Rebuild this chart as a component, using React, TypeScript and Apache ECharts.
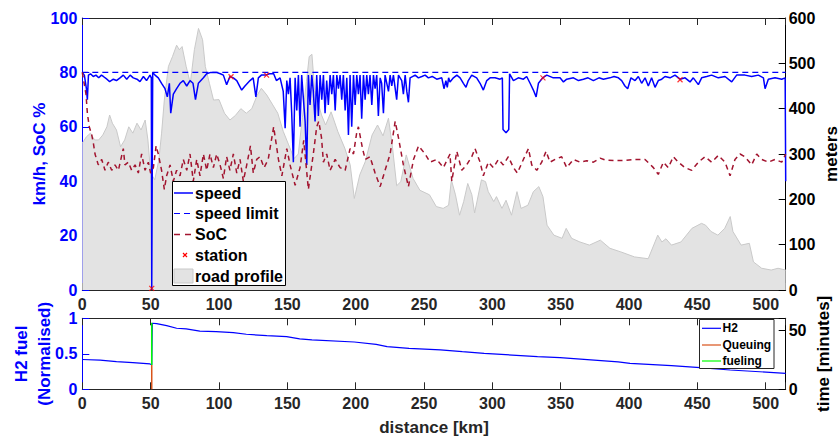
import React, { useEffect, useRef } from "react";
import * as echarts from "echarts";

const FONT = '"Liberation Sans", Arial, Helvetica, sans-serif';
const BLUE = "#0000ff";
const DARK = "#262626";

// distance [km] vs road profile [meters]
const roadProfile: [number, number][] = [
  [0, 324], [3, 338], [6, 346], [9, 331], [12, 331], [15, 342], [18, 360], [20, 386], [22, 368], [25, 353],
  [28, 316], [31, 331], [34, 360], [37, 346], [40, 368], [43, 353], [46, 375], [48, 331], [50, 258], [53, 243],
  [56, 287], [58, 346], [60, 419], [63, 493], [66, 515], [69, 540], [71, 530], [73, 537], [76, 493], [79, 456],
  [82, 530], [85, 577], [88, 552], [90, 493], [93, 456], [96, 419], [100, 420], [104, 390], [108, 375], [112, 385],
  [116, 400], [120, 390], [124, 400], [128, 430], [131, 445], [135, 430], [139, 410], [143, 390], [147, 350],
  [151, 320], [155, 290], [158, 300], [161, 380], [164, 460], [166, 515], [168, 520], [170, 440], [175, 386],
  [178, 364], [182, 393], [187, 349], [192, 313], [196, 276], [199, 202], [203, 254], [207, 283], [212, 342],
  [216, 364], [220, 340], [224, 379], [227, 313], [230, 230], [233, 239], [237, 298], [242, 246], [247, 220],
  [254, 210], [259, 184], [264, 180], [268, 187], [270, 243], [273, 210], [276, 165], [279, 195], [282, 235],
  [285, 210], [287, 170], [292, 243], [295, 239], [297, 217], [301, 195], [303, 206], [307, 180], [310, 198],
  [314, 165], [318, 217], [321, 180], [326, 187], [330, 217], [334, 228], [337, 206], [340, 143], [345, 121],
  [351, 114], [354, 136], [358, 114], [364, 106], [371, 99], [379, 110], [386, 92], [394, 84], [404, 73],
  [414, 69], [419, 106], [421, 121], [424, 106], [427, 113], [431, 99], [438, 106], [446, 136], [453, 147],
  [456, 143], [460, 129], [465, 121], [470, 136], [474, 162], [476, 129], [482, 99], [488, 103], [491, 62],
  [497, 48], [504, 44], [509, 48], [514.6, 44],
];

// distance [km] vs speed [km/h]
const speedPoints: [number, number][] = [
  [0, 80], [1.5, 79], [3, 74], [3.7, 70], [4.5, 79], [6, 79.5], [8, 78.5], [10, 79], [12, 78], [14, 79],
  [15.4, 78.5], [18, 77.5], [20, 76.6], [22.7, 77.5], [25, 77], [27.6, 78], [30, 79], [32.5, 77.5], [35, 79],
  [37.3, 78], [40, 77.5], [42.2, 76.6], [44.7, 78.5], [47, 77], [49.5, 79], [50.5, 78], [50.8, 0], [51.2, 0],
  [51.5, 80], [53.2, 79], [55.6, 78], [58, 76], [60.5, 74], [62.2, 71], [63.7, 76], [64.7, 65], [66.6, 72],
  [69, 74], [71.5, 76], [73.9, 77], [76.4, 75], [78.8, 77], [81, 76], [82.8, 70], [84.9, 76], [88.6, 78],
  [91, 79.5], [94, 80], [98, 80], [101, 79.5], [103.2, 79], [105.6, 75.5], [108, 78.5], [110.5, 78], [113, 77],
  [116.6, 73.5], [119, 75], [122.7, 77], [125, 78], [127, 71], [128.8, 78], [131, 79], [134, 79], [137, 79.5],
  [140, 79.5], [142, 77], [144.7, 78], [147, 73], [148.4, 59.5], [149.6, 77], [150.8, 72], [152, 78],
  [153.2, 65], [154.4, 47], [155.7, 78], [156.9, 66], [158.1, 79], [159.3, 60], [160.5, 79], [161.8, 70],
  [163, 62], [164.2, 46], [165.4, 79], [166.6, 68], [167.9, 79], [169, 73], [170.3, 62], [171.5, 79],
  [172.7, 64], [174, 79], [175.2, 70], [176.4, 79], [177.6, 65], [178.8, 77], [180, 68], [181.3, 79],
  [182.5, 72], [183.7, 79], [185, 66], [186.2, 79], [187.4, 74], [188.6, 79], [189.8, 70], [191, 79],
  [192.3, 66], [193.5, 78], [194.7, 57], [195.9, 79], [197.1, 60], [198.4, 79], [199.6, 68], [200.8, 79],
  [202, 72], [203.2, 79], [204.4, 63], [205.7, 79], [206.9, 70], [208.1, 79], [209.3, 72], [210.5, 79],
  [211.8, 68], [213, 79], [214.2, 74], [215.4, 79], [216.6, 64], [217.9, 78], [219, 76], [220.3, 65],
  [221.5, 79], [224, 73], [225.2, 79], [226.4, 75], [227.6, 79], [230, 70], [231.3, 79], [233.7, 77],
  [234.9, 72], [236.2, 79], [237.4, 73], [238.6, 69], [239.8, 78], [243.5, 79], [245.9, 78], [248.4, 78.5],
  [250.8, 79], [253.2, 78], [256, 78.5], [259.3, 77.5], [263, 78], [264.6, 74], [266, 77], [267, 74.5],
  [268, 78], [269, 76.5], [271.5, 78], [274, 79], [276.4, 78], [278.8, 76], [280.7, 74.5], [282.4, 77],
  [284.9, 79], [288.5, 78], [291, 76], [293.4, 73.5], [295.9, 77], [298.3, 78], [302, 78], [305.6, 77.5],
  [307.3, 78], [307.8, 59], [310, 57.8], [312, 59], [312.6, 79.5], [315.4, 77], [319, 78], [322.7, 77.5],
  [325.1, 78.5], [327.6, 76], [330, 73.5], [332, 71], [333.7, 76], [336.8, 78], [339.8, 79], [344.6, 78],
  [349.5, 78], [352, 76.5], [354.4, 77.5], [359.3, 78], [363, 77], [366.6, 77.5], [370, 78], [373.9, 77],
  [378, 78], [381.2, 77.5], [386, 78], [389, 78.5], [392.2, 78], [394.6, 77], [397, 75], [399, 74],
  [401.4, 78], [404.4, 77], [406.8, 78.5], [409.2, 76], [411.7, 78], [414.1, 75], [416.5, 78], [419, 74.5],
  [421.4, 77], [423.9, 77.5], [426.3, 78.5], [430, 78], [433.6, 79], [437.3, 77.5], [441, 78], [444.6, 76.5],
  [447, 78], [450.7, 75.5], [453.1, 78], [456.8, 78.5], [460.4, 79], [465.3, 78], [470.2, 78.5], [475.1, 76.5],
  [478.7, 79], [484.8, 79], [489.7, 78.5], [494.6, 79], [498.3, 78], [499.5, 74], [501.9, 77.5], [506.8, 78],
  [511.7, 77.5], [514.2, 78], [514.6, 40],
];

// speed limit [km/h]
const speedLimitPoints: [number, number][] = [[0, 80], [514.6, 80]];

// distance [km] vs state of charge [%]
const socPoints: [number, number][] = [
  [0, 80], [2.7, 72], [3.7, 65], [5.1, 60], [6.9, 57], [8.1, 54], [9.3, 50], [11.7, 46], [14.2, 48], [16.6, 44],
  [19, 47], [21.5, 44], [23.9, 46], [26.4, 44], [30, 52], [31.2, 46], [33.7, 47], [36.1, 44], [38.6, 46], [41, 43],
  [43.4, 50], [45.9, 44], [48.3, 47], [50, 43], [52, 45], [54, 53], [55.6, 50], [58, 44], [60, 37], [61.7, 42],
  [64.2, 46], [66.6, 40], [69, 44], [71.5, 42], [73.9, 48], [76.4, 44], [78.8, 50], [81.2, 40], [83.7, 48],
  [86.1, 42], [88.6, 50], [91, 44], [93.4, 50], [95.9, 45], [98.3, 50], [100.8, 46], [103.2, 41], [105.6, 49],
  [108, 44], [110.5, 50], [113, 43], [115.4, 48], [117.8, 40], [120.3, 46], [123, 53], [125.1, 43], [127.6, 48],
  [130, 49], [133, 45], [136, 48], [140, 60], [143.5, 48], [146, 42], [149.6, 52], [152, 46], [155.7, 38.5],
  [159.3, 45], [162, 55], [165.4, 37], [169, 50], [171.5, 60], [173, 62], [175, 56], [176.4, 47], [178.8, 50],
  [181.3, 44], [185, 48], [188.6, 45], [192.3, 44], [195.9, 52], [198.4, 50], [200.8, 58], [202, 60], [205, 52],
  [207, 48], [210.5, 49], [214.2, 43], [217.9, 38], [221.5, 44], [225.2, 50], [228.9, 62], [231.3, 56],
  [234.9, 46], [238.6, 38], [242.3, 48], [246, 53], [250.8, 50], [254.4, 47], [259.3, 48], [264.2, 45],
  [269, 50], [270.3, 40], [274, 51], [277.6, 44], [281.2, 46], [284.9, 49], [287.3, 52], [291, 47], [293.4, 42],
  [297.1, 47], [300.7, 45], [304.4, 48], [308, 46], [311.7, 49], [315.4, 45], [318.3, 43], [322.7, 48],
  [326.4, 52], [328.8, 46], [332.5, 44], [336.1, 47], [339.3, 51], [342.2, 47], [345.9, 48], [350.7, 49],
  [354.4, 45], [359.3, 48], [364.2, 47], [369, 47.5], [373.9, 47], [378.8, 48.5], [382.4, 47.8], [389.7, 47.6],
  [397, 47.6], [404.4, 48], [411.7, 48], [417.8, 45], [421.4, 42.5], [425.1, 47], [428.7, 45], [432.4, 49],
  [436, 47], [440.9, 45], [445.8, 44], [450.7, 47], [455.6, 49], [460.4, 47], [465.3, 49.5], [470.2, 47],
  [473.9, 42], [477.5, 48], [481.2, 50], [484.8, 49], [489.7, 46], [493.4, 50], [497, 48], [501.9, 47],
  [506.8, 48], [511.7, 47], [514.6, 50],
];

// fuelling stations along the route
const stationPoints: [number, number][] = [[50.8, 0.6], [108.8, 78.4], [134.8, 79], [337, 78], [437.3, 77.3]];

// H2 fuel level (normalised)
const h2Points: [number, number][] = [
  [0, 0.42], [13, 0.41], [25, 0.39], [37, 0.375], [49.5, 0.357], [50.8, 0.345], [51.2, 0.93], [54.4, 0.925],
  [61.7, 0.897], [69, 0.86], [76, 0.85], [86, 0.82], [98, 0.812], [110.5, 0.798], [120, 0.775], [135, 0.756],
  [149.5, 0.742], [159, 0.71], [168, 0.695], [199, 0.666], [215, 0.633], [223, 0.6], [239, 0.577], [262, 0.554],
  [278, 0.53], [294, 0.507], [333, 0.46], [349.5, 0.445], [392, 0.385], [400.7, 0.366], [431, 0.333],
  [452, 0.305], [474, 0.272], [514.6, 0.225],
];

// time [minutes] spent at the station
const queuingPoints: [number, number][] = [[50.8, 0], [50.8, 20.5]];
const fuelingPoints: [number, number][] = [[50.8, 20.5], [50.8, 56.3]];

const X_MAX = 514.6;
const X_INTERVAL = 50;

function xAxis(gridIndex: number, position: "top" | "bottom", showLabel: boolean, name?: string) {
  return {
    type: "value",
    gridIndex,
    position,
    min: 0,
    max: X_MAX,
    interval: X_INTERVAL,
    name,
    nameLocation: "middle",
    nameGap: 30,
    nameMoveOverlap: false,
    nameTextStyle: { color: DARK, fontSize: 17, fontWeight: "bold", fontFamily: FONT },
    axisLine: { show: true, onZero: false, lineStyle: { color: DARK, width: 1 } },
    axisTick: { show: true, inside: true, length: 7, lineStyle: { color: DARK, width: 1 } },
    axisLabel: {
      show: showLabel,
      color: DARK,
      fontSize: 16,
      fontWeight: "bold",
      fontFamily: FONT,
      margin: 6,
      formatter: (v: number) => (v % X_INTERVAL === 0 ? String(v) : ""),
    },
    splitLine: { show: false },
  };
}

function yAxis(
  gridIndex: number,
  position: "left" | "right",
  min: number,
  max: number,
  interval: number,
  color: string,
  name: string,
  nameGap: number,
  margin: number,
) {
  return {
    type: "value",
    gridIndex,
    position,
    min,
    max,
    interval,
    name,
    nameLocation: "middle",
    nameGap,
    nameMoveOverlap: false,
    nameTextStyle: { color, fontSize: 17, fontWeight: "bold", fontFamily: FONT, lineHeight: 23 },
    axisLine: { show: true, onZero: false, lineStyle: { color, width: 1 } },
    axisTick: { show: true, inside: true, length: 7, lineStyle: { color, width: 1 } },
    axisLabel: {
      color,
      fontSize: 16,
      fontWeight: "bold",
      fontFamily: FONT,
      margin,
      formatter: (v: number) => {
        const r = Math.round((v - min) / interval);
        return Math.abs(min + r * interval - v) < 1e-9 ? String(v) : "";
      },
    },
    splitLine: { show: false },
  };
}

const legendFont = `bold 16px ${FONT}`;
const smallFont = `bold 12px ${FONT}`;

function buildGraphic() {
  const z = 100;
  const rows = [193, 213.5, 234.5, 255, 276];
  const tx = 195;
  const g: any[] = [
    { type: "rect", z, shape: { x: 172.5, y: 181.5, width: 113, height: 104 }, style: { fill: "#ffffff", stroke: "#000000", lineWidth: 1 } },
    { type: "line", z, shape: { x1: 174, y1: rows[0], x2: 193, y2: rows[0] }, style: { stroke: BLUE, lineWidth: 1.5 } },
    { type: "line", z, shape: { x1: 174, y1: rows[1], x2: 193, y2: rows[1] }, style: { stroke: BLUE, lineWidth: 1.2, lineDash: [6, 4] } },
    { type: "line", z, shape: { x1: 174, y1: rows[2], x2: 193, y2: rows[2] }, style: { stroke: "#a2142f", lineWidth: 1.5, lineDash: [6, 5] } },
    { type: "line", z, shape: { x1: 183, y1: rows[3] - 2, x2: 187, y2: rows[3] + 2 }, style: { stroke: "#ff0000", lineWidth: 1.2 } },
    { type: "line", z, shape: { x1: 187, y1: rows[3] - 2, x2: 183, y2: rows[3] + 2 }, style: { stroke: "#ff0000", lineWidth: 1.2 } },
    { type: "rect", z, shape: { x: 174, y: 269, width: 19, height: 14 }, style: { fill: "#e3e3e3", stroke: "#c9c9c9", lineWidth: 1 } },
  ];
  ["speed", "speed limit", "SoC", "station", "road profile"].forEach((t, i) => {
    g.push({ type: "text", z, x: tx, y: rows[i], style: { text: t, font: legendFont, fill: "#000000", verticalAlign: "middle", align: "left" } });
  });
  const rows2 = [328.3, 345, 361];
  g.push({ type: "rect", z, shape: { x: 699.5, y: 319.5, width: 74.5, height: 49 }, style: { fill: "#ffffff", stroke: DARK, lineWidth: 1 } });
  const cols2 = [BLUE, "#d95319", "#00ff00"];
  ["H2", "Queuing", "fueling"].forEach((t, i) => {
    g.push({ type: "line", z, shape: { x1: 702, y1: rows2[i], x2: 721, y2: rows2[i] }, style: { stroke: cols2[i], lineWidth: 1.2 } });
    g.push({ type: "text", z, x: 722.5, y: rows2[i], style: { text: t, font: smallFont, fill: "#000000", verticalAlign: "middle", align: "left" } });
  });
  return g;
}

export default function App() {
  const ref = useRef<HTMLDivElement>(null);
  useEffect(() => {
    if (!ref.current) return;
    const chart = echarts.init(ref.current, undefined, { renderer: "svg" });
    const option: any = {
      animation: false,
      backgroundColor: "#ffffff",
      grid: [
        { left: 82.3, top: 18, width: 703.4, height: 272, containLabel: false, outerBoundsMode: "none" },
        { left: 82.3, top: 318.3, width: 703.4, height: 71, containLabel: false, outerBoundsMode: "none" },
      ],
      xAxis: [
        xAxis(0, "bottom", true),
        xAxis(0, "top", false),
        xAxis(1, "bottom", true, "distance [km]"),
        xAxis(1, "top", false),
      ],
      yAxis: [
        yAxis(0, "left", 0, 100, 20, BLUE, "km/h, SoC %", 31, 5),
        yAxis(0, "right", 0, 600, 100, "#000000", "meters", 34, 3),
        yAxis(1, "left", 0, 1, 0.5, BLUE, "H2 fuel\n(Normalised)", 26, 5),
        yAxis(1, "right", 0, 60, 50, "#000000", "time [minutes]", 26, 3),
      ],
      series: [
        {
          name: "road profile",
          type: "line",
          xAxisIndex: 0,
          yAxisIndex: 1,
          data: roadProfile,
          symbol: "none",
          showSymbol: false,
          z: 1,
          lineStyle: { color: "#c9c9c9", width: 1 },
          areaStyle: { color: "#e3e3e3", opacity: 1 },
        },
        {
          name: "speed limit",
          type: "line",
          xAxisIndex: 0,
          yAxisIndex: 0,
          data: speedLimitPoints,
          symbol: "none",
          z: 3,
          lineStyle: { color: BLUE, width: 1.2, type: [6, 4] },
        },
        {
          name: "speed",
          type: "line",
          xAxisIndex: 0,
          yAxisIndex: 0,
          data: speedPoints,
          symbol: "none",
          z: 4,
          lineStyle: { color: BLUE, width: 1.5 },
        },
        {
          name: "SoC",
          type: "line",
          xAxisIndex: 0,
          yAxisIndex: 0,
          data: socPoints,
          symbol: "none",
          z: 5,
          lineStyle: { color: "#a2142f", width: 1.5, type: [5, 4] },
        },
        {
          name: "station",
          type: "scatter",
          xAxisIndex: 0,
          yAxisIndex: 0,
          data: stationPoints,
          symbol: "path://M0,0L10,10M10,0L0,10",
          symbolSize: 5,
          z: 6,
          itemStyle: { color: "#ff0000", borderColor: "#ff0000", borderWidth: 1.2 },
        },
        {
          name: "H2",
          type: "line",
          xAxisIndex: 2,
          yAxisIndex: 2,
          data: h2Points,
          symbol: "none",
          z: 4,
          lineStyle: { color: BLUE, width: 1.2 },
        },
        {
          name: "Queuing",
          type: "line",
          xAxisIndex: 2,
          yAxisIndex: 3,
          data: queuingPoints,
          symbol: "none",
          z: 5,
          lineStyle: { color: "#d95319", width: 1.5 },
        },
        {
          name: "fueling",
          type: "line",
          xAxisIndex: 2,
          yAxisIndex: 3,
          data: fuelingPoints,
          symbol: "none",
          z: 5,
          lineStyle: { color: "#00ff00", width: 1.5 },
        },
      ],
      graphic: buildGraphic(),
    };
    chart.setOption(option);
    return () => chart.dispose();
  }, []);
  return (
    <div
      ref={ref}
      style={{ position: "fixed", left: 0, top: 0, width: 840, height: 441, background: "#ffffff" }}
    />
  );
}
